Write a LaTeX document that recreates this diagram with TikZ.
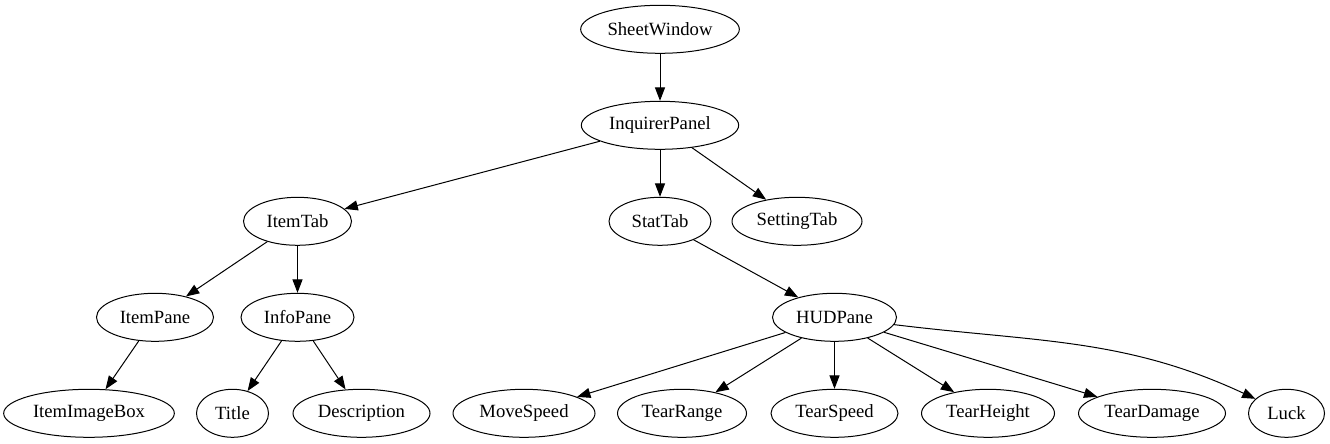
\documentclass[tikz,border=0pt]{standalone}
\usepackage{fontspec}
\setmainfont{Liberation Serif}
\usetikzlibrary{arrows.meta, shapes.geometric}

\begin{document}
\begin{tikzpicture}[
    x=0.75pt, y=-0.75pt,
    oval/.style={
        ellipse,
        draw,
        line width=0.75pt,
        minimum height=36pt,
        inner sep=0pt,
        font=\fontsize{14}{16}\selectfont
    },
    arrow/.style={
        -{Triangle[length=10pt, width=7.5pt]},
        line width=0.75pt
    }
]
\useasboundingbox (0,0) rectangle (1330,443);

% === Rank 1-2: window and panel ===
\node[oval, minimum width=119pt] (sheet) at (660,29.3) {SheetWindow};
\node[oval, minimum width=118pt] (inquirer) at (660,125.3) {InquirerPanel};

% === Rank 3: tabs ===
\node[oval, minimum width=81pt] (itemtab) at (297.5,221.3) {ItemTab};
\node[oval, minimum width=76.5pt] (stattab) at (660,221.3) {StatTab};
\node[oval, minimum width=97.5pt] (settingtab) at (797,221.3) {SettingTab};

% === Rank 4: panes ===
\node[oval, minimum width=87.75pt] (itempane) at (155,317.3) {ItemPane};
\node[oval, minimum width=84.75pt] (infopane) at (297.5,317.3) {InfoPane};
\node[oval, minimum width=93pt] (hudpane) at (834.5,317.3) {HUDPane};

% === Rank 5: leaves ===
\node[oval, minimum width=128pt] (imagebox) at (89,413.3) {ItemImageBox};
\node[oval, minimum width=54pt] (title) at (232.5,413.3) {Title};
\node[oval, minimum width=102.75pt] (desc) at (361.5,413.3) {Description};
\node[oval, minimum width=106.5pt] (movespeed) at (524,413.3) {MoveSpeed};
\node[oval, minimum width=96.75pt] (tearrange) at (682,413.3) {TearRange};
\node[oval, minimum width=95.25pt] (tearspeed) at (834.5,413.3) {TearSpeed};
\node[oval, minimum width=99.75pt] (tearheight) at (988,413.3) {TearHeight};
\node[oval, minimum width=110.25pt] (teardamage) at (1152,413.3) {TearDamage};
\node[oval, minimum width=57pt] (luck) at (1286.5,413.3) {Luck};

% === Edges ===
\draw[arrow] (sheet) -- (inquirer);
\draw[arrow] (inquirer) -- (itemtab);
\draw[arrow] (inquirer) -- (stattab);
\draw[arrow] (inquirer) -- (settingtab);
\draw[arrow] (itemtab) -- (itempane);
\draw[arrow] (itemtab) -- (infopane);
\draw[arrow] (stattab) -- (hudpane);
\draw[arrow] (itempane) -- (imagebox);
\draw[arrow] (infopane) -- (title);
\draw[arrow] (infopane) -- (desc);
\draw[arrow] (hudpane) -- (movespeed);
\draw[arrow] (hudpane) -- (tearrange);
\draw[arrow] (hudpane) -- (tearspeed);
\draw[arrow] (hudpane) -- (tearheight);
\draw[arrow] (hudpane) -- (teardamage);
\draw[arrow] (hudpane) to[out=-7, in=155] (luck);

\end{tikzpicture}
\end{document}
